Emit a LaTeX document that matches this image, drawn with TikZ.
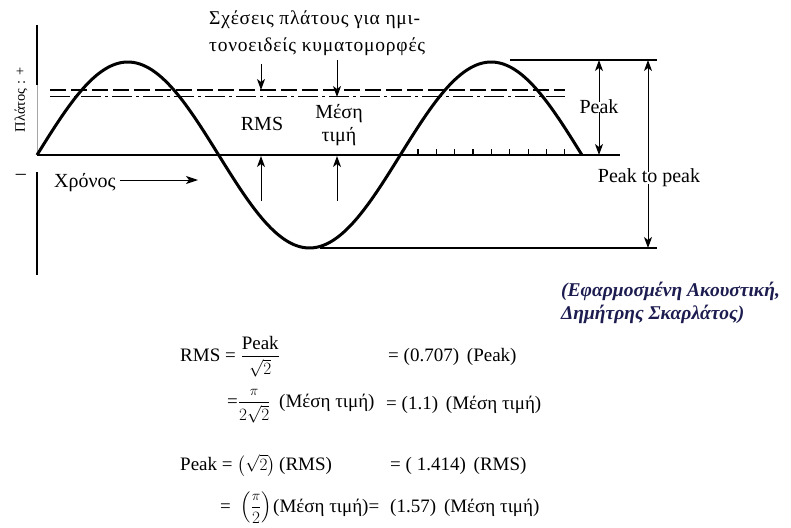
\documentclass[tikz,border=0pt]{standalone}
\usepackage{amsmath}
\usepackage{fontspec}
\setmainfont{Liberation Serif}
\usetikzlibrary{arrows.meta}
\definecolor{citeblue}{HTML}{1C1C50}
\tikzset{
  thick line/.style={line width=2.4pt},
  wave/.style={line width=3pt, line join=round},
  arr/.style={line width=1pt, -{Stealth[length=11pt,width=8pt,inset=3pt]}},
  lbl/.style={font=\fontsize{20}{22}\selectfont, inner sep=0pt},
  ttl/.style={font=\fontsize{19.5}{22}\selectfont\addfontfeature{LetterSpace=4}, inner sep=0pt, anchor=base west},
  eq/.style={font=\fontsize{19}{21}\selectfont, inner sep=0pt, anchor=base west},
  cite/.style={font=\fontsize{19.5}{21}\selectfont\bfseries\itshape, text=citeblue, inner sep=0pt, anchor=base west},
}
\begin{document}
\begin{tikzpicture}[x=1pt,y=-1pt]
\useasboundingbox (0,0) rectangle (791,527);
% axis
\coordinate (axtop) at (37,25);
\coordinate (axmid) at (37,85);
\coordinate (ax0) at (37,155);
\coordinate (axlow) at (37,172);
\coordinate (axbot) at (37,275);
\draw[thick line] (axtop) -- (axmid);
\draw[line width=1pt, gray!70] (axmid) -- (ax0);
\draw[thick line] (axlow) -- (axbot);
% baseline and lines
\coordinate (b0) at (37,155);
\coordinate (b1) at (620,155);
\draw[thick line] (b0) -- (b1);
\coordinate (t0) at (510,60);
\coordinate (t1) at (657,60);
\draw[thick line] (t0) -- (t1);
\coordinate (u0) at (320,248);
\coordinate (u1) at (657,248);
\draw[thick line] (u0) -- (u1);
% ticks
\foreach \i in {0,...,8} \draw[line width=1.2pt] ({418+18.35*\i},155) -- ++(0,-6);
% rms and mean lines
\coordinate (r0) at (50,90);
\coordinate (r1) at (565,90);
\draw[line width=1.8pt, dash pattern=on 16pt off 5pt] (r0) -- (r1);
\coordinate (m0) at (50,96.5);
\coordinate (m1) at (565,96.5);
\draw[line width=1.8pt, dash pattern=on 20pt off 4pt on 3pt off 4pt] (m0) -- (m1);
% sine
\draw[wave] plot[smooth, samples=120, domain=0:540] ({37+\x*1.00917}, {155-93*sin(\x)});
% arrows RMS / mean
\coordinate (rms top) at (261,64);
\coordinate (rms hit) at (261,90);
\coordinate (rms bot) at (261,201);
\coordinate (rms base) at (261,156);
\draw[arr] (rms top) -- (rms hit);
\draw[arr] (rms bot) -- (rms base);
\coordinate (mean top) at (337,60);
\coordinate (mean hit) at (337,97);
\coordinate (mean bot) at (337,201);
\coordinate (mean base) at (337,156);
\draw[arr] (mean top) -- (mean hit);
\draw[arr] (mean bot) -- (mean base);
% labels
\node[lbl] (rms) at (262,124) {RMS};
\node[lbl] (meanA) at (339,114) {Μέση};
\node[lbl] (meanB) at (339,137) {τιμή};
\node[ttl] (titleA) at (209,25) {Σχέσεις πλάτους για ημι-};
\node[ttl] (titleB) at (209,52) {τονοειδείς κυματομορφές};
\node[lbl, anchor=base west] (time) at (54,187) {Χρόνος};
\coordinate (timeend) at (198,180);
\draw[line width=1pt, -{Stealth[length=12pt,width=8pt,inset=3pt]}] ([xshift=4pt]time.east |- timeend) -- (timeend);
\node[lbl, rotate=90, font=\fontsize{14.5}{16}\selectfont] (amp) at (21,100) {Πλάτος : +};
\node[lbl] (minus) at (21,177) {–};
% Peak arrows
\node[lbl] (peak) at (599,107) {Peak};
\coordinate (pk top) at (599,60);
\coordinate (pk bot) at (599,155);
\draw[arr] ([yshift=-2pt]peak.north) -- (pk top);
\draw[arr] ([yshift=2pt]peak.south) -- (pk bot);
\node[lbl] (p2p) at (649,178) {Peak to peak};
\coordinate (pp top) at (648,60);
\coordinate (pp bot) at (648,248);
\draw[arr] ([yshift=-3pt]p2p.north -| pp top) -- (pp top);
\draw[arr] ([yshift=3pt]p2p.south -| pp bot) -- (pp bot);
% citation
\node[cite] (citeA) at (561,296) {(Εφαρμοσμένη Ακουστική,};
\node[cite] (citeB) at (561,319) {Δημήτρης Σκαρλάτος)};
% equations
\node[eq] (e1a) at (180,361) {RMS = $\dfrac{\mbox{Peak}}{\sqrt{2}}$};
\node[eq] (e1b) at (388,361) {= (0.707)\, (Peak)};
\node[eq] (e2a) at (227,407) {=$\dfrac{\scriptstyle\pi}{2\sqrt{2}}$};
\node[eq] (e2m) at (279,407) {(Μέση τιμή)};
\node[eq] (e2b) at (386,409) {= (1.1)\, (Μέση τιμή)};
\node[eq] (e3a) at (180,470) {Peak = $\left(\sqrt{2}\right)$};
\node[eq] (e3r) at (279,470) {(RMS)};
\node[eq] (e3b) at (390,470) {= ( 1.414)\, (RMS)};
\node[eq] (e4a) at (220,512) {=\enspace $\left(\dfrac{\scriptstyle\pi}{2}\right)$};
\node[eq] (e4m) at (273,512) {(Μέση τιμή)=};
\node[eq] (e4b) at (390,512) {(1.57)\, (Μέση τιμή)};
\end{tikzpicture}
\end{document}
